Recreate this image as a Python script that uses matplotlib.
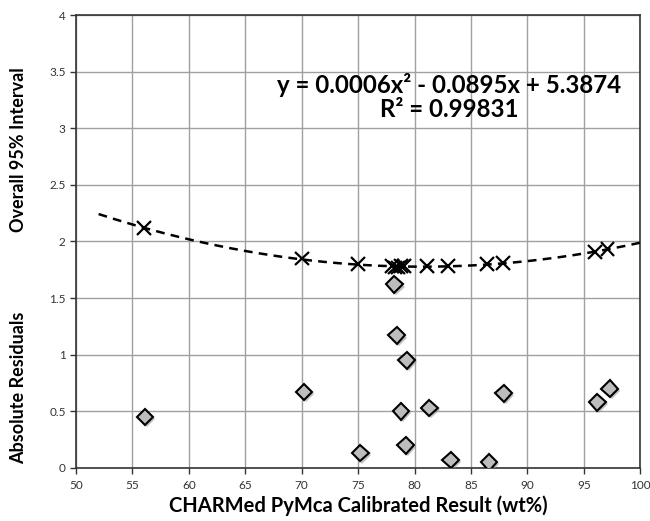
import numpy as np
import matplotlib
matplotlib.use("Agg")
import matplotlib.pyplot as plt
import matplotlib.patheffects as pe

# calibrated results (wt%) and the interval / residual values
calibrated = [56.0, 70.0, 75.0, 78.0, 78.3, 78.5, 78.8, 79.1, 81.1, 83.0, 86.4, 87.8, 96.0, 97.1]
interval = [2.12, 1.85, 1.80, 1.78, 1.77, 1.77, 1.78, 1.78, 1.78, 1.78, 1.80, 1.81, 1.91, 1.93]

resid_x = [56.1, 70.2, 75.2, 78.2, 78.4, 78.8, 79.2, 79.3, 81.3, 83.2, 86.6, 87.9, 96.2, 97.3]
residuals = [0.45, 0.67, 0.13, 1.62, 1.17, 0.50, 0.20, 0.95, 0.53, 0.07, 0.05, 0.66, 0.58, 0.70]

x_ticks = [50, 55, 60, 65, 70, 75, 80, 85, 90, 95, 100]
y_ticks = [0, 0.5, 1, 1.5, 2, 2.5, 3, 3.5, 4]
y_labels = ["0", "0.5", "1", "1.5", "2", "2.5", "3", "3.5", "4"]

plt.rcParams["font.family"] = ["Lato", "DejaVu Sans"]

fig = plt.figure(figsize=(6.5, 5.21), dpi=100)
ax = fig.add_axes([0.117, 0.102, 0.868, 0.869])

# polynomial trendline (order 2), extended like the Excel forecast
coef = np.polyfit(calibrated, interval, 2)
xs = np.linspace(52, 100, 200)
ax.plot(xs, np.polyval(coef, xs), color="black", lw=1.8, ls=(0, (3.5, 2.5)), zorder=3)

shadow = [pe.SimplePatchShadow(offset=(1.5, -1.5), shadow_rgbFace="0.6", alpha=0.6), pe.Normal()]

ax.plot(calibrated, interval, ls="none", marker="x", ms=10, mew=1.6, color="black",
        zorder=4, path_effects=shadow)
ax.plot(resid_x, residuals, ls="none", marker="D", ms=8.5, mfc="#bdbdbd", mec="black",
        mew=1.5, zorder=5, path_effects=shadow)

ax.set_xlim(50, 100)
ax.set_ylim(0, 4)
ax.set_xticks(x_ticks)
ax.set_yticks(y_ticks)
ax.set_yticklabels(y_labels)
ax.grid(True, color="#a0a0a0", lw=1.0)
ax.set_axisbelow(True)
ax.tick_params(labelsize=8.5, colors="#333333", length=4, width=1, direction="out")
ax.tick_params(axis="x", pad=5)
for s in ax.spines.values():
    s.set_color("#333333")
    s.set_linewidth(1.2)

ax.text(83.1, 3.38, "y = 0.0006x² - 0.0895x + 5.3874", fontsize=17.3, fontweight="bold",
        ha="center", va="center")
ax.text(83.1, 3.17, "R² = 0.99831", fontsize=17.3, fontweight="bold",
        ha="center", va="center")

ax.set_xlabel("CHARMed PyMca Calibrated Result (wt%)", fontsize=14.5, fontweight="bold", labelpad=3)
fig.text(0.028, 0.713, "Overall 95% Interval", rotation=90, fontsize=13, fontweight="bold",
         ha="center", va="center")
fig.text(0.028, 0.256, "Absolute Residuals", rotation=90, fontsize=13, fontweight="bold",
         ha="center", va="center")

fig.savefig("out.png", dpi=100)
